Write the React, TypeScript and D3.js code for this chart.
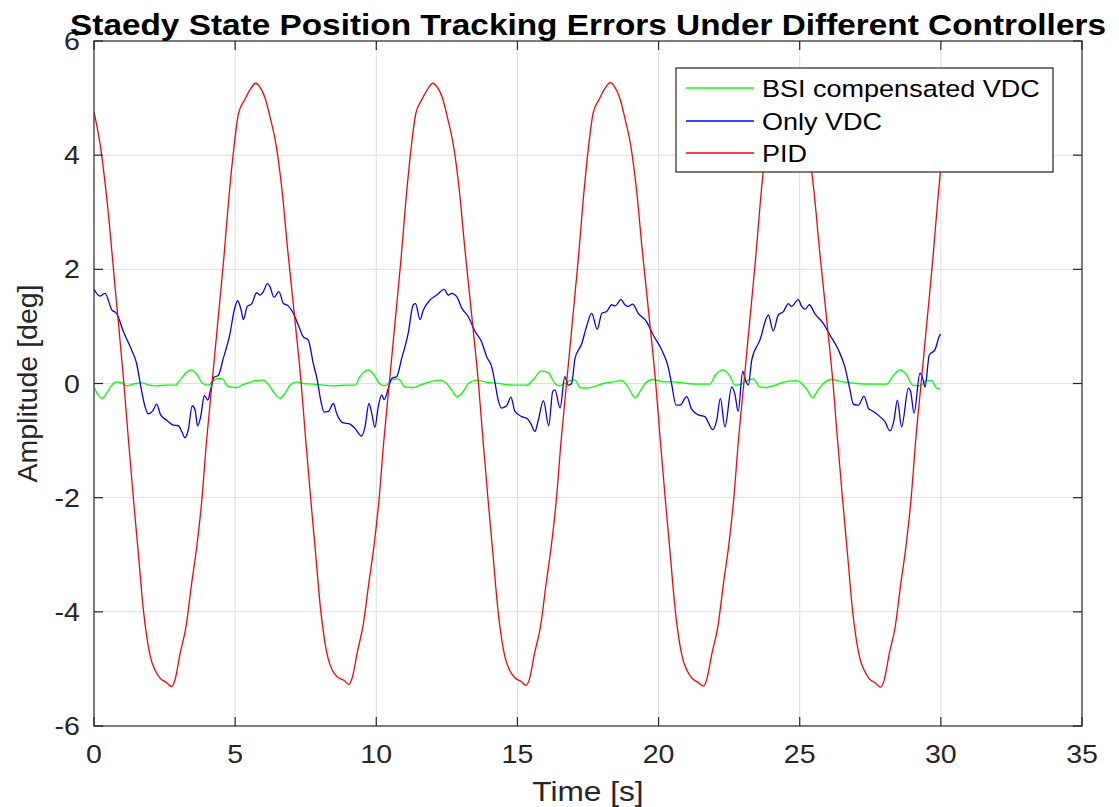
import React from "react";
import * as d3 from "d3";

// ---------- data ----------
const xTicks = [0, 5, 10, 15, 20, 25, 30, 35];
const yTicks = [-6, -4, -2, 0, 2, 4, 6];
const seriesNames = ["BSI compensated VDC", "Only VDC", "PID"];
const seriesColors = ["#00ff00", "#0000ff", "#ff0000"];

const redT = [
  0, 0.21, 0.46, 0.76, 1.06, 1.22, 1.39, 1.57, 1.75, 1.87, 2.01, 2.16, 2.34, 2.57, 2.75, 2.87, 3.05, 3.26, 3.46, 3.64, 3.82, 3.99, 4.18, 4.4, 4.6, 4.77, 4.96, 5.12, 5.34, 5.53, 5.73, 5.88, 6.06, 6.26, 6.44, 6.66, 6.86, 7.11,
  7.34, 7.5, 7.67, 7.85, 8.03, 8.15, 8.29, 8.44, 8.62, 8.85, 9.03, 9.15, 9.33, 9.54, 9.74, 9.92, 10.1, 10.27, 10.46, 10.68, 10.88, 11.05, 11.24, 11.4, 11.62, 11.81, 12.01, 12.16, 12.34, 12.54, 12.72, 12.94, 13.14, 13.39,
  13.62, 13.78, 13.95, 14.13, 14.31, 14.43, 14.57, 14.72, 14.9, 15.13, 15.31, 15.43, 15.61, 15.82, 16.02, 16.2, 16.38, 16.55, 16.74, 16.96, 17.16, 17.33, 17.52, 17.68, 17.9, 18.09, 18.29, 18.44, 18.62, 18.82, 19.0, 19.22, 19.42, 19.67,
  19.9, 20.06, 20.23, 20.41, 20.59, 20.71, 20.85, 21.0, 21.18, 21.41, 21.59, 21.71, 21.89, 22.1, 22.3, 22.48, 22.66, 22.83, 23.02, 23.24, 23.44, 23.61, 23.8, 23.96, 24.18, 24.37, 24.57, 24.72, 24.9, 25.1, 25.28, 25.5, 25.7, 25.95,
  26.18, 26.34, 26.51, 26.69, 26.87, 26.99, 27.13, 27.28, 27.46, 27.69, 27.87, 27.99, 28.17, 28.38, 28.58, 28.76, 28.94, 29.11, 29.3, 29.52, 29.72, 29.89, 30.0,
];
const redV = [
  4.76, 4.21, 3.21, 1.62, 0, -0.99, -1.98, -2.97, -3.97, -4.44, -4.81, -5.02, -5.16, -5.24, -5.31, -5.19, -4.73, -4.26, -3.5, -2.86, -2.04, -0.99, 0, 1.15, 2.2, 3.21, 4.15, 4.73, 4.97, 5.15, 5.26, 5.19, 5.0, 4.62, 4.21, 3.39, 2.35, 1.15,
  0, -0.99, -1.98, -2.97, -3.97, -4.44, -4.81, -5.02, -5.14, -5.2, -5.27, -5.15, -4.7, -4.22, -3.48, -2.84, -2.02, -0.99, 0, 1.15, 2.2, 3.21, 4.15, 4.73, 4.98, 5.15, 5.26, 5.19, 5.01, 4.62, 4.21, 3.39, 2.35, 1.15,
  0, -0.99, -1.98, -2.97, -3.97, -4.44, -4.81, -5.02, -5.15, -5.22, -5.29, -5.17, -4.72, -4.25, -3.49, -2.85, -2.03, -0.99, 0, 1.15, 2.2, 3.21, 4.15, 4.73, 4.98, 5.16, 5.27, 5.2, 5.01, 4.62, 4.21, 3.39, 2.35, 1.15,
  0, -0.99, -1.98, -2.97, -3.97, -4.44, -4.81, -5.02, -5.16, -5.24, -5.3, -5.18, -4.73, -4.26, -3.5, -2.86, -2.04, -0.99, 0, 1.15, 2.2, 3.21, 4.15, 4.73, 4.97, 5.15, 5.26, 5.19, 5.0, 4.62, 4.21, 3.39, 2.35, 1.15,
  0, -0.99, -1.98, -2.97, -3.97, -4.44, -4.81, -5.02, -5.17, -5.25, -5.32, -5.2, -4.74, -4.27, -3.51, -2.87, -2.05, -0.99, 0, 1.15, 2.2, 3.21, 3.8,
];

const blueT = [
  0, 0.21, 0.39, 0.63, 0.8, 1.04, 1.33, 1.51, 1.66, 1.81, 1.92, 2.08, 2.22, 2.36, 2.57, 2.81, 2.99, 3.11, 3.22, 3.34, 3.48, 3.58, 3.67, 3.78, 3.91, 4.03, 4.13, 4.25, 4.4, 4.58, 4.82, 4.97, 5.09, 5.21, 5.29, 5.43, 5.59, 5.76, 5.88, 6.0, 6.14, 6.23, 6.38, 6.55, 6.71, 6.88, 7.06, 7.24, 7.41, 7.59, 7.77, 7.91, 8.03, 8.15, 8.3, 8.48, 8.6, 8.83, 9.07, 9.25, 9.48, 9.6, 9.74, 9.84, 9.95, 10.07, 10.19, 10.28, 10.43, 10.55, 10.72, 10.9,
  11.13, 11.31, 11.39, 11.55, 11.67, 11.9, 12.14, 12.41, 12.55, 12.67, 12.85, 13.03, 13.26, 13.5, 13.73, 13.91, 14.09, 14.21, 14.32, 14.44, 14.62, 14.77, 14.91, 15.15, 15.33, 15.47, 15.62, 15.74, 15.92, 16.11, 16.25, 16.33, 16.51, 16.68, 16.8, 16.92, 17.04, 17.28, 17.45, 17.63, 17.83, 17.99, 18.16, 18.34, 18.46, 18.67, 18.81, 18.93, 19.08, 19.28, 19.58, 19.81, 20.11, 20.34, 20.46, 20.62, 20.76, 21.0, 21.17, 21.41, 21.64, 21.92, 22.06, 22.19, 22.35, 22.59, 22.71, 22.82, 22.98, 23.1, 23.18, 23.3, 23.59, 23.89, 24.06, 24.24, 24.42, 24.6, 24.71, 24.95, 25.07, 25.19, 25.34, 25.54, 25.84, 26.07, 26.37, 26.6, 26.76, 26.9, 27.08, 27.28, 27.43, 27.61, 27.84, 28.02, 28.2, 28.34, 28.46, 28.61, 28.85, 28.93, 29.05, 29.26, 29.36, 29.44, 29.59, 29.79, 29.97, 30.0,
];
const blueV = [
  1.65, 1.53, 1.58, 1.29, 1.23, 0.91, 0.59, 0.35, -0.06, -0.41, -0.53, -0.48, -0.36, -0.55, -0.64, -0.73, -0.74, -0.84, -0.95, -0.81, -0.39, -0.46, -0.74, -0.58, -0.21, -0.29, -0.11, 0.11, 0.14, 0.44, 0.88, 1.29, 1.45, 1.29, 1.12, 1.35, 1.4, 1.59, 1.55, 1.61, 1.75, 1.7, 1.51, 1.61, 1.4, 1.36, 1.23, 1.02, 0.82, 0.76, 0.35, 0.06, -0.29, -0.5, -0.49, -0.35, -0.53, -0.69, -0.71, -0.79, -0.92, -0.76, -0.35, -0.52, -0.77, -0.41, -0.2, -0.28, -0.08, 0.09, 0.12, 0.44,
  0.88, 1.38, 1.4, 1.12, 1.29, 1.46, 1.55, 1.65, 1.55, 1.58, 1.52, 1.32, 1.17, 0.91, 0.73, 0.47, 0.29, 0.0, -0.29, -0.43, -0.39, -0.24, -0.49, -0.58, -0.61, -0.7, -0.84, -0.64, -0.3, -0.74, -0.14, -0.11, -0.43, 0.12, -0.03, 0.0, 0.44, 0.7, 1.0, 1.23, 0.95, 1.23, 1.26, 1.38, 1.36, 1.47, 1.38, 1.35, 1.39, 1.23, 1.08, 0.85, 0.59, 0.29, 0.0, -0.38, -0.38, -0.23, -0.45, -0.55, -0.58, -0.81, -0.64, -0.26, -0.76, -0.06, -0.2, -0.49, 0.21, 0.03, -0.03, 0.41, 0.76, 1.2, 0.92, 1.2, 1.26, 1.4, 1.35, 1.47, 1.35, 1.3, 1.38, 1.22, 1.05, 0.85, 0.59, 0.29, -0.06, -0.36, -0.38, -0.22, -0.43, -0.49, -0.58, -0.67, -0.83, -0.64, -0.29, -0.76, -0.08, -0.14, -0.52, 0.18, 0.09, -0.06, 0.5, 0.59, 0.85, 0.86,
];

const greenT = [
  0, 0.15, 0.29, 0.45, 0.63, 0.78, 0.98, 1.16, 1.39, 1.69, 1.98, 2.22, 2.57, 2.87, 3.05, 3.26, 3.46, 3.66, 3.85, 4.05, 4.23, 4.4, 4.56, 4.7, 4.84, 5.05, 5.23, 5.47, 5.7, 6.0, 6.17, 6.35, 6.59, 6.77, 6.94, 7.18, 7.41, 7.77, 8.12, 8.48, 8.95, 9.25, 9.42, 9.72, 9.95, 10.13, 10.31, 10.55, 10.78, 11.02, 11.31, 11.55, 11.9, 12.26, 12.49, 12.67, 12.85, 13.08, 13.26, 13.56, 13.85, 14.14, 14.5, 14.85,
  15.33, 15.56, 15.86, 16.09, 16.33, 16.48, 16.86, 17.04, 17.22, 17.45, 17.69, 18.04, 18.4, 18.69, 18.87, 19.01, 19.16, 19.34, 19.52, 19.81, 20.17, 20.52, 21.0, 21.47, 21.82, 22.0, 22.29, 22.53, 22.71, 22.94, 23.18, 23.36, 23.59, 23.83, 24.06, 24.48, 24.89, 25.13, 25.3, 25.46, 25.62, 25.84, 26.13, 26.54, 27.02, 27.61, 28.08, 28.32, 28.55, 28.79, 29.0, 29.26, 29.5, 29.67, 29.85, 29.97,
];
const greenV = [
  -0.06, -0.2, -0.26, -0.17, -0.03, 0.03, 0.01, -0.04, -0.01, 0.01, -0.03, -0.04, -0.03, -0.03, 0.06, 0.19, 0.24, 0.15, 0.0, -0.03, 0.05, 0.09, 0.08, -0.03, -0.06, -0.07, -0.03, 0.01, 0.05, 0.06, -0.01, -0.14, -0.26, -0.17, -0.03, 0.03, 0.0, -0.01, -0.03, -0.04, -0.03, -0.03, 0.12, 0.24, 0.13, -0.01, -0.04, 0.06, 0.08, -0.06, -0.07, -0.03, 0.03, 0.06, 0.0, -0.11, -0.23, -0.14, 0.0, 0.06, 0.03, 0.01, -0.01, -0.03,
  -0.03, 0.07, 0.22, 0.19, 0.0, -0.04, 0.05, 0.06, -0.07, -0.08, -0.06, 0.0, 0.03, 0.05, -0.03, -0.14, -0.25, -0.14, 0.0, 0.07, 0.03, 0.03, 0.0, -0.01, -0.01, 0.14, 0.24, 0.13, -0.03, -0.01, 0.06, 0.08, -0.06, -0.07, -0.04, 0.03, 0.05, -0.03, -0.14, -0.25, -0.14, 0.0, 0.07, 0.03, 0.0, -0.01, -0.01, 0.14, 0.24, 0.15, -0.03, -0.04, 0.05, 0.05, -0.08, -0.09,
];

// ---------- layout ----------
const W = 1119;
const H = 807;
const M = { left: 94, right: 1082, top: 41, bottom: 726 };
const FONT = "'Liberation Sans', Arial, Helvetica, sans-serif";
const AX = "#262626";
const STRETCH = 1.15;

export default function App() {
  const x = d3.scaleLinear().domain([0, 35]).range([M.left, M.right]);
  const y = d3.scaleLinear().domain([-6, 6]).range([M.bottom, M.top]);

  const mk = (ts: number[], vs: number[]) => ts.map((t, i) => [t, vs[i]] as [number, number]);
  const line = d3
    .line<[number, number]>()
    .x((d) => x(d[0]))
    .y((d) => y(d[1]))
    .curve(d3.curveMonotoneX);

  const series = [mk(greenT, greenV), mk(blueT, blueV), mk(redT, redV)];

  const tickLen = 9;
  const leg = { x: 676, y: 68, w: 377, h: 104 };
  const legRows = [88, 121, 153];

  return (
    <svg
      width={W}
      height={H}
      style={{ position: "absolute", left: 0, top: 0, background: "#fff" }}
      fontFamily={FONT}
    >
      <rect x={0} y={0} width={W} height={H} fill="#fff" />
      <defs>
        <clipPath id="plotclip">
          <rect x={M.left} y={M.top} width={M.right - M.left} height={M.bottom - M.top} />
        </clipPath>
      </defs>

      {/* grid */}
      <g stroke="#dfdfdf" strokeWidth={1}>
        {xTicks.slice(1, -1).map((t) => (
          <line key={"gx" + t} x1={x(t)} x2={x(t)} y1={M.top} y2={M.bottom} />
        ))}
        {yTicks.slice(1, -1).map((t) => (
          <line key={"gy" + t} x1={M.left} x2={M.right} y1={y(t)} y2={y(t)} />
        ))}
      </g>

      {/* lines */}
      <g clipPath="url(#plotclip)" fill="none" strokeWidth={1.3} strokeLinejoin="round">
        {series.map((s, i) => (
          <path key={i} d={line(s) || ""} stroke={seriesColors[i]} />
        ))}
      </g>

      {/* axes box & ticks */}
      <g stroke={AX} strokeWidth={1.2} fill="none">
        <rect x={M.left} y={M.top} width={M.right - M.left} height={M.bottom - M.top} />
        {xTicks.map((t) => (
          <g key={"tx" + t}>
            <line x1={x(t)} x2={x(t)} y1={M.bottom} y2={M.bottom - tickLen} />
            <line x1={x(t)} x2={x(t)} y1={M.top} y2={M.top + tickLen} />
          </g>
        ))}
        {yTicks.map((t) => (
          <g key={"ty" + t}>
            <line x1={M.left} x2={M.left + tickLen} y1={y(t)} y2={y(t)} />
            <line x1={M.right} x2={M.right - tickLen} y1={y(t)} y2={y(t)} />
          </g>
        ))}
      </g>

      {/* tick labels */}
      <g fill={AX} fontSize={25.5}>
        {xTicks.map((t) => (
          <text
            key={"lx" + t}
            transform={`translate(${x(t)},${763}) scale(${1.12},1)`}
            textAnchor="middle"
          >
            {String(t)}
          </text>
        ))}
        {yTicks.map((t) => (
          <text
            key={"ly" + t}
            transform={`translate(${80},${y(t) + 9}) scale(${1.12},1)`}
            textAnchor="end"
          >
            {String(t)}
          </text>
        ))}
      </g>

      {/* axis labels */}
      <text
        transform={`translate(${(M.left + M.right) / 2},${801}) scale(${STRETCH},1)`}
        textAnchor="middle"
        fontSize={27.5}
        fill={AX}
      >
        Time [s]
      </text>
      <text
        transform={`translate(${36.5},${(M.top + M.bottom) / 2}) rotate(-90)`}
        textAnchor="middle"
        fontSize={28.5}
        fill={AX}
      >
        Amplitude [deg]
      </text>

      {/* title */}
      <text
        transform={`translate(${588},${35}) scale(${STRETCH},1)`}
        textAnchor="middle"
        fontSize={29}
        fontWeight="bold"
        fill="#000"
      >
        Staedy State Position Tracking Errors Under Different Controllers
      </text>

      {/* legend */}
      <g>
        <rect x={leg.x} y={leg.y} width={leg.w} height={leg.h} fill="#fff" stroke={AX} strokeWidth={1.2} />
        {seriesNames.map((n, i) => (
          <g key={n}>
            <line x1={686} x2={754} y1={legRows[i]} y2={legRows[i]} stroke={seriesColors[i]} strokeWidth={1.3} />
            <text
              transform={`translate(${762},${legRows[i] + 8.5}) scale(${STRETCH},1)`}
              fontSize={23.5}
              fill="#000"
            >
              {n}
            </text>
          </g>
        ))}
      </g>
    </svg>
  );
}
